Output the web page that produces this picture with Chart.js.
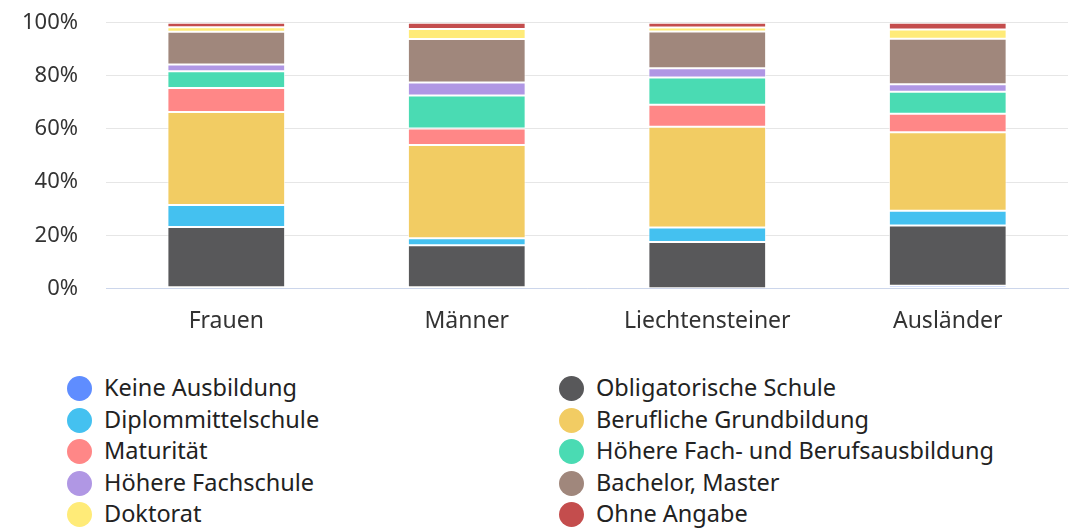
<!DOCTYPE html>
<html>
<head>
<meta charset="utf-8">
<script src="https://cdn.jsdelivr.net/npm/chart.js@4/dist/chart.umd.min.js"></script>
<style>
  html, body { margin: 0; padding: 0; background: #fff; }
  #wrap { position: relative; width: 1070px; height: 531px; overflow: hidden; }
  #chartBox { position: absolute; left: 0; top: 0; width: 1070px; height: 335px; }
  #legend { position: absolute; left: 0; top: 373px; width: 1070px; height: 158px;
            font-family: "Noto Sans", sans-serif; font-size: 23.5px; color: #222; }
  .item { position: absolute; height: 31px; line-height: 31px; white-space: nowrap; }
  .dot { position: absolute; left: 0; top: 3px; width: 25px; height: 25px; border-radius: 50%; }
  .lbl { position: absolute; left: 37px; top: -1px; }
</style>
</head>
<body>
<div id="wrap">
  <div id="chartBox"><canvas id="c"></canvas></div>
  <div id="legend"></div>
</div>
<script>
const categories = ["Frauen", "Männer", "Liechtensteiner", "Ausländer"];
const seriesNames = [
  "Keine Ausbildung", "Obligatorische Schule", "Diplommittelschule", "Berufliche Grundbildung",
  "Maturität", "Höhere Fach- und Berufsausbildung", "Höhere Fachschule", "Bachelor, Master",
  "Doktorat", "Ohne Angabe"
];
const keineAusbildung      = [0.4, 0.4, 0.1, 1.0];
const obligatorischeSchule = [22.7, 15.8, 17.4, 22.7];
const diplommittelschule   = [8.3, 2.7, 5.4, 5.5];
const beruflicheGrund      = [35.0, 35.1, 37.9, 29.6];
const maturitaet           = [9.0, 6.2, 8.3, 6.9];
const hoehereFachBeruf     = [6.3, 12.4, 10.3, 8.3];
const hoehereFachschule    = [2.6, 4.9, 3.5, 2.8];
const bachelorMaster       = [12.3, 16.4, 13.8, 17.2];
const doktorat             = [1.7, 3.7, 1.5, 3.4];
const ohneAngabe           = [1.7, 2.4, 1.8, 2.6];
const yTicks = [0, 20, 40, 60, 80, 100];

const seriesValues = [keineAusbildung, obligatorischeSchule, diplommittelschule, beruflicheGrund,
  maturitaet, hoehereFachBeruf, hoehereFachschule, bachelorMaster, doktorat, ohneAngabe];
const colors = ["#5f8dff", "#58585a", "#44c1f0", "#f2cc63", "#ff8787", "#4adbb3",
  "#b097e4", "#a0877c", "#ffeb78", "#c44d4d"];

const FONT = "'Noto Sans', sans-serif";

const datasets = seriesNames.map((n, i) => ({
  label: n,
  data: seriesValues[i],
  backgroundColor: colors[i],
  borderColor: "rgba(255,255,255,0.75)",
  borderWidth: 1,
  borderSkipped: false,
  categoryPercentage: 0.8,
  barPercentage: 0.612
}));

new Chart(document.getElementById("c"), {
  type: "bar",
  data: { labels: categories, datasets },
  options: {
    responsive: true,
    maintainAspectRatio: false,
    animation: false,
    layout: { padding: { top: 22.7, left: 22, right: 2, bottom: 0 } },
    plugins: { legend: { display: false }, tooltip: { enabled: false } },
    scales: {
      x: {
        stacked: true,
        grid: { display: true, drawOnChartArea: false, drawTicks: true, tickLength: 19,
                color: "rgba(0,0,0,0)", tickColor: "rgba(0,0,0,0)" },
        border: { display: true, color: "#ccd6eb", width: 1 },
        ticks: { color: "#333", font: { family: FONT, size: 23 }, padding: 0 }
      },
      y: {
        stacked: true,
        min: 0, max: 100,
        afterBuildTicks: (axis) => { axis.ticks = yTicks.map(v => ({ value: v })); },
        grid: { color: "#e6e6e6", drawTicks: true, tickLength: 28, tickColor: "rgba(0,0,0,0)" },
        border: { display: false },
        ticks: { color: "#333", font: { family: FONT, size: 22 }, padding: 0,
                 callback: (v) => v + "%" }
      }
    }
  }
});

// HTML legend built from the series
const legend = document.getElementById("legend");
const colX = [67, 559];
seriesNames.forEach((n, i) => {
  const col = i % 2, row = Math.floor(i / 2);
  const d = document.createElement("div");
  d.className = "item";
  d.style.left = colX[col] + "px";
  d.style.top = (row * 31.5) + "px";
  d.innerHTML = '<span class="dot" style="background:' + colors[i] + '"></span><span class="lbl"></span>';
  d.querySelector(".lbl").textContent = n;
  legend.appendChild(d);
});
</script>
</body>
</html>
